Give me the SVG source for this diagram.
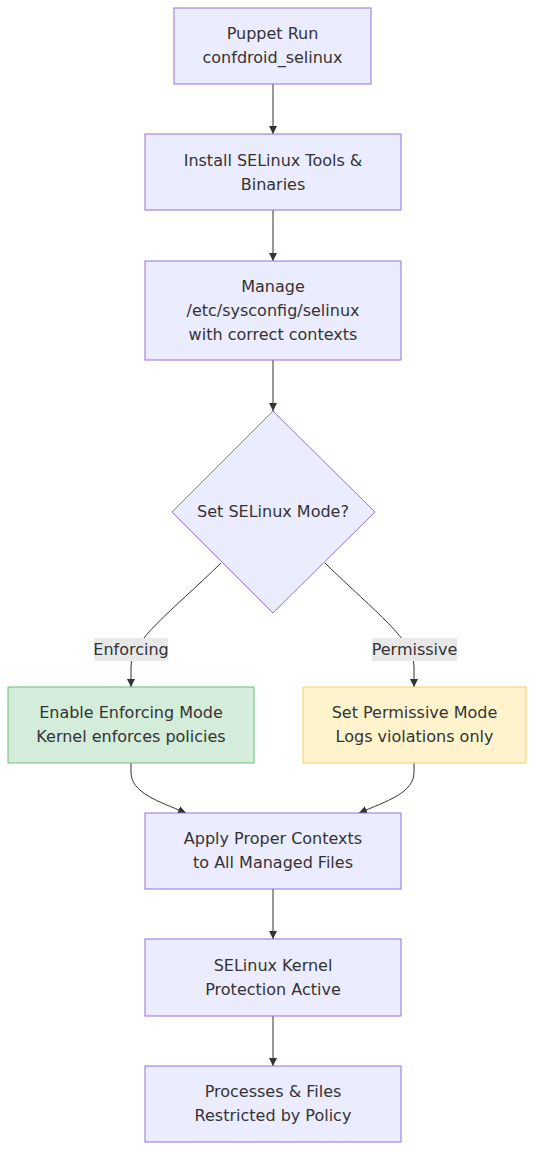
<svg xmlns="http://www.w3.org/2000/svg" width="542" height="1166" viewBox="0 0 542 1166">
<defs>
<style>
.n{fill:#ECECFF;stroke:#9370DB;stroke-width:1}
.g{fill:#D4EDDA;stroke:#6ABF7A;stroke-width:1}
.y{fill:#FFF3CD;stroke:#F0D264;stroke-width:1}
text{font-family:"DejaVu Sans",Verdana,sans-serif;font-size:16px;fill:#333;text-anchor:middle}
.e{fill:none;stroke:#333;stroke-width:1}
.lb{fill:#e8e8e8}
</style>
<marker id="ah" viewBox="0 0 10 10" refX="10" refY="5" markerWidth="8" markerHeight="8" markerUnits="userSpaceOnUse" orient="auto">
<path d="M0,0 L10,5 L0,10 z" fill="#333"/>
</marker>
</defs>
<rect width="542" height="1166" fill="#fff"/>
<g id="connectors">
<path class="e" d="M273,84 L273,134" marker-end="url(#ah)"/>
<path class="e" d="M273,210 L273,261" marker-end="url(#ah)"/>
<path class="e" d="M273,360 L273,411" marker-end="url(#ah)"/>
<path class="e" d="M221,563 C170,613 131,640 131,667 L131,687" marker-end="url(#ah)"/>
<path class="e" d="M325,563 C376,613 414,640 414,667 L414,687" marker-end="url(#ah)"/>
<path class="e" d="M131,763 L131,772 C131,793 158,801 186,813" marker-end="url(#ah)"/>
<path class="e" d="M414,763 L414,772 C414,793 387,801 359,813" marker-end="url(#ah)"/>
<path class="e" d="M273,889 L273,939" marker-end="url(#ah)"/>
<path class="e" d="M273,1016 L273,1066" marker-end="url(#ah)"/>
<rect class="lb" x="94" y="638" width="74" height="23"/>
<text x="131" y="655">Enforcing</text>
<rect class="lb" x="372" y="638" width="85" height="23"/>
<text x="414.5" y="655">Permissive</text>
</g>
<g id="puppet">
<rect class="n" x="174" y="8" width="197" height="76"/>
<text x="272.5" y="39">Puppet Run</text>
<text x="272.5" y="63">confdroid_selinux</text>
</g>
<g id="install">
<rect class="n" x="145" y="134" width="256" height="76"/>
<text x="273" y="166">Install SELinux Tools &amp;</text>
<text x="273" y="190">Binaries</text>
</g>
<g id="manage">
<rect class="n" x="145" y="261" width="256" height="99"/>
<text x="273" y="292">Manage</text>
<text x="273" y="316">/etc/sysconfig/selinux</text>
<text x="273" y="340">with correct contexts</text>
</g>
<g id="decision">
<polygon class="n" points="273,411 375,512 273,613 172,512"/>
<text x="273" y="517">Set SELinux Mode?</text>
</g>
<g id="enforcing">
<rect class="g" x="8" y="687" width="246" height="76"/>
<text x="131" y="718">Enable Enforcing Mode</text>
<text x="131" y="742">Kernel enforces policies</text>
</g>
<g id="permissive">
<rect class="y" x="303" y="687" width="223" height="76"/>
<text x="414.5" y="718">Set Permissive Mode</text>
<text x="414.5" y="742">Logs violations only</text>
</g>
<g id="apply">
<rect class="n" x="145" y="813" width="256" height="76"/>
<text x="273" y="844">Apply Proper Contexts</text>
<text x="273" y="868">to All Managed Files</text>
</g>
<g id="kernel">
<rect class="n" x="145" y="939" width="256" height="77"/>
<text x="273" y="971">SELinux Kernel</text>
<text x="273" y="995">Protection Active</text>
</g>
<g id="processes">
<rect class="n" x="145" y="1066" width="256" height="76"/>
<text x="273" y="1097">Processes &amp; Files</text>
<text x="273" y="1121">Restricted by Policy</text>
</g>
</svg>
